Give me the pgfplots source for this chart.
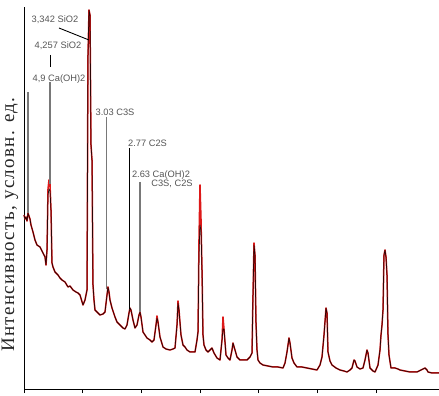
\documentclass[border=0pt]{standalone}
\usepackage{fontspec}
\setmainfont{Liberation Serif}
\newfontfamily\labfont{Liberation Sans}
\newfontfamily\ylabfont[LetterSpace=7]{Liberation Serif}
\usepackage{pgfplots}
\pgfplotsset{compat=1.18}
\definecolor{annot}{RGB}{120,120,120}
\definecolor{txt}{RGB}{85,85,85}
\begin{document}
\begin{tikzpicture}
\path[use as bounding box] (-24bp,-7bp) rectangle (415bp,389bp);
\begin{axis}[
  scale only axis, width=415bp, height=382bp,
  xmin=24, xmax=439, ymin=0, ymax=382,
  axis x line*=bottom, axis y line*=left,
  axis line style={black, line width=0.8bp},
  xtick={24,82.7,141.4,200.1,258.8,317.5,376.2}, xticklabels={},
  tick align=outside, major tick length=4bp,
  tick style={black, line width=0.8bp},
  ytick=\empty,
  clip=false,
  ylabel={\ylabfont\fontsize{19bp}{21bp}\selectfont Интенсивность, условн. ед.},
  ylabel style={at={(axis description cs:-0.0337,0.43)}, anchor=center, text=black!85},
  every node/.append style={inner sep=0pt},
]
% red trace
\addplot[red!85!black!90, line width=1.5bp, line join=round] coordinates {
(24,174)(25,170)(26,172)(27,168)(28,176)(29,173)(30,170)(31,164)(33,157)(35,149)(37,144)(40,142)(42,138)(43,136)(45,132)(46,124)(47,139)(48,200)(49,209)(50,205)(51,179)(52,126)(53,122)(55,117)(58,114)(60,111)(62,109)(65,107)(68,102)(70,103)(73,99)(76,97)(78,96)(80,94)(83,84)(85,89)(87,99)(88,334)(89,379)(90,374)(91,244)(92,229)(93,104)(94,89)(95,79)(98,76)(100,74)(103,75)(105,77)(107,94)(108,102)(109,97)(110,89)(112,81)(115,72)(117,67)(120,64)(123,61)(125,60)(127,64)(129,76)(130,81)(131,79)(133,69)(135,61)(137,64)(139,74)(140,77)(141,72)(143,57)(145,54)(147,51)(150,49)(152,47)(154,49)(156,64)(157,73)(158,67)(160,52)(163,42)(166,40)(170,39)(173,40)(175,41)(177,64)(178,88)(179,79)(181,54)(183,44)(185,42)(187,39)(190,37)(193,37)(195,37)(197,49)(198,57)(199,150)(200,204)(201,170)(202,119)(203,54)(204,44)(206,39)(208,37)(210,39)(212,41)(214,36)(217,31)(220,29)(222,49)(223,72)(224,60)(226,34)(228,31)(230,29)(232,39)(233,46)(235,39)(237,32)(240,29)(244,29)(247,29)(250,32)(252,36)(253,94)(254,146)(255,134)(256,66)(257,39)(258,29)(260,26)(263,24)(268,23)(273,22)(278,22)(283,21)(285,26)(287,37)(289,51)(290,46)(292,31)(294,26)(297,22)(302,22)(307,21)(312,20)(317,19)(320,24)(322,32)(324,54)(326,81)(327,76)(328,37)(330,28)(332,24)(336,21)(340,19)(344,18)(347,17)(350,19)(352,21)(354,29)(355,28)(357,22)(360,20)(363,21)(365,29)(367,39)(368,36)(370,21)(373,18)(375,17)(378,24)(380,39)(381,54)(382,64)(383,79)(384,134)(385,139)(386,132)(387,114)(388,54)(389,34)(391,21)(393,21)(395,21)(398,20)(400,19)(405,18)(410,17)(414,17)(417,17)(421,19)(425,21)(427,19)(428,17)(432,16)(435,16)(439,16)
};
% black trace
\addplot[black, line width=0.75bp, opacity=0.8, line join=round] coordinates {
(24,174)(25,170)(26,172)(27,168)(28,176)(29,173)(30,170)(31,164)(33,157)(35,149)(37,144)(40,142)(42,138)(43,136)(45,132)(46,124)(47,139)(48,194)(49,200)(50,198)(51,179)(52,126)(53,122)(55,117)(58,114)(60,111)(62,109)(65,107)(68,102)(70,103)(73,99)(76,97)(78,96)(80,94)(83,84)(85,89)(87,99)(88,334)(89,379)(90,374)(91,244)(92,229)(93,104)(94,89)(95,79)(98,76)(100,74)(103,75)(105,77)(107,94)(108,102)(109,97)(110,89)(112,81)(115,72)(117,67)(120,64)(123,61)(125,60)(127,64)(129,76)(130,81)(131,79)(133,69)(135,61)(137,64)(139,74)(140,77)(141,72)(143,57)(145,54)(147,51)(150,49)(152,47)(154,49)(156,64)(157,71)(158,67)(160,52)(163,42)(166,40)(170,39)(173,40)(175,41)(177,64)(178,86)(179,79)(181,54)(183,44)(185,42)(187,39)(190,37)(193,37)(195,37)(197,49)(198,57)(199,134)(200,164)(201,159)(202,119)(203,54)(204,44)(206,39)(208,37)(210,39)(212,41)(214,36)(217,31)(220,29)(222,49)(223,60)(224,60)(226,34)(228,31)(230,29)(232,39)(233,46)(235,39)(237,32)(240,29)(244,29)(247,29)(250,32)(252,36)(253,94)(254,144)(255,134)(256,66)(257,39)(258,29)(260,26)(263,24)(268,23)(273,22)(278,22)(283,21)(285,26)(287,37)(289,51)(290,46)(292,31)(294,26)(297,22)(302,22)(307,21)(312,20)(317,19)(320,24)(322,32)(324,54)(326,81)(327,76)(328,37)(330,28)(332,24)(336,21)(340,19)(344,18)(347,17)(350,19)(352,21)(354,29)(355,28)(357,22)(360,20)(363,21)(365,29)(367,39)(368,36)(370,21)(373,18)(375,17)(378,24)(380,39)(381,54)(382,64)(383,79)(384,134)(385,139)(386,132)(387,114)(388,54)(389,34)(391,21)(393,21)(395,21)(398,20)(400,19)(405,18)(410,17)(414,17)(417,17)(421,19)(425,21)(427,19)(428,17)(432,16)(435,16)(439,16)
};
% annotation leader lines
\addplot[annot, line width=1.1bp] coordinates {(28,297)(28,176)};
\addplot[black, line width=1bp] coordinates {(50,334)(50,322)};
\addplot[annot, line width=1.1bp] coordinates {(50,307)(50,205)};
\addplot[black, line width=0.9bp] coordinates {(59,361)(89,349)};
\addplot[annot, line width=1.1bp] coordinates {(106.5,272)(106.5,100)};
\addplot[black, line width=1bp] coordinates {(129,241)(129,80)};
\addplot[annot, line width=1.1bp] coordinates {(140,207)(140,77)};
% labels
\begin{scope}[every node/.style={font=\labfont\fontsize{9.3bp}{10bp}\selectfont, text=txt, inner sep=0pt}]
\node at (axis cs:55,369) {3,342 SiO2};
\node at (axis cs:58,343) {4,257 SiO2};
\node at (axis cs:59,310) {4,9 Ca(OH)2};
\node at (axis cs:115,277) {3.03 C3S};
\node at (axis cs:147.5,246) {2.77 C2S};
\node at (axis cs:161,214) {2.63 Ca(OH)2};
\node at (axis cs:172,205) {C3S, C2S};
\end{scope}
\end{axis}
\end{tikzpicture}
\end{document}
